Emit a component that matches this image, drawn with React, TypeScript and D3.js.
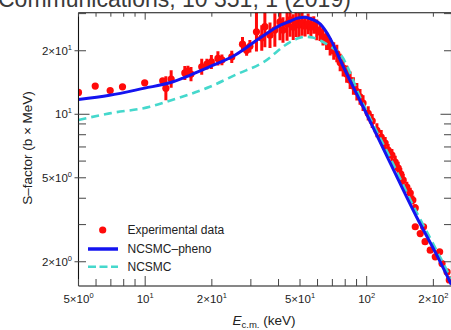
import React from "react";
import * as d3 from "d3";

const expEnergy = [5.0, 5.95, 6.95, 7.9, 9.95, 12.0, 12.4, 13.1, 15.1, 15.6, 16.1, 18.0, 19.0, 19.9, 21.3, 22.2, 24.6, 27.5, 28.7, 29.7, 31.8, 33.6, 34.7, 36.6, 38.5, 40.6, 41.9, 43.7, 45.1, 46.6, 48.0, 49.5, 51.1, 52.7, 54.4, 56.0, 57.7, 59.5, 61.6, 63.5, 65.9, 68.4, 71.0, 73.3, 75.9, 78.3, 81.2, 84.2, 87.1, 90.3, 93.3, 96.3, 101.6, 105.9, 111.2, 116.3, 121.2, 125.0, 130, 134.5, 138.8, 142.6, 146.2, 151.8, 157.3, 161.6, 165.7, 165.7, 174.5, 180.6, 183.5, 193.6, 204, 213.5, 218.8, 230.6, 236];
const expS = [12.7, 13.6, 12.95, 13.5, 14.1, 14.4, 13.3, 14.7, 15.7, 16.0, 15.5, 16.8, 17.3, 17.7, 18.4, 18.1, 18.7, 21.5, 20.1, 21.0, 24.6, 23.0, 26.0, 23.7, 25.1, 27.4, 25.1, 26.8, 28.0, 25.9, 27.4, 26.5, 27.1, 26.2, 26.8, 25.9, 26.5, 25.1, 24.5, 23.3, 22.2, 20.9, 19.97, 19.4, 17.6, 16.6, 15.5, 14.5, 13.6, 12.8, 12.1, 11.3, 10.1, 9.3, 8.4, 7.8, 7.3, 6.76, 6.4, 5.94, 5.56, 5.2, 4.87, 4.52, 4.23, 3.92, 3.6, 2.93, 2.72, 2.93, 2.49, 2.27, 2.11, 2.23, 1.96, 1.79, 1.64];
const expErr = [0, 0, 0, 0, 0, 0.03, 0.14, 0.1, 0.08, 0.06, 0.08, 0.09, 0.06, 0.08, 0.08, 0.06, 0.07, 0.08, 0.06, 0.07, 0.24, 0.15, 0.25, 0.15, 0.2, 0.22, 0.15, 0.2, 0.2, 0.15, 0.18, 0.15, 0.15, 0.12, 0.12, 0.12, 0.1, 0.12, 0.1, 0.1, 0.1, 0.1, 0.1, 0.1, 0.1, 0.1, 0.1, 0.1, 0.1, 0.1, 0.09, 0.09, 0.08, 0.08, 0.08, 0.08, 0.07, 0.07, 0.07, 0.07, 0.07, 0.07, 0.07, 0.06, 0.06, 0.05, 0.04, 0, 0, 0, 0, 0, 0, 0, 0, 0, 0];

const phenoEnergy = [5, 6.9, 9.95, 12.9, 15.9, 19.6, 25.5, 33, 40.6, 45.1, 49, 52.7, 55.5, 58.5, 61.6, 64.7, 68.4, 72, 75.9, 96.3, 127.8, 168, 204, 241];
const phenoS = [11.75, 12.3, 13.3, 14.1, 15.3, 16.8, 19.1, 23.0, 26.4, 27.6, 28.6, 28.8, 28.4, 27.8, 26.8, 25.2, 22.9, 20.5, 18.1, 10.86, 5.87, 3.26, 2.22, 1.56];

const ncsmcEnergy = [5, 6.9, 10.5, 12.25, 19.6, 26, 34.0, 45.1, 49, 53, 57, 61.6, 68.4, 75.9, 96.3, 127.8, 168, 204, 241];
const ncsmcS = [9.4, 10.1, 10.86, 11.4, 13.5, 15.5, 17.6, 22.0, 22.9, 23.3, 23.1, 22.4, 21.0, 19.3, 11.2, 6.2, 3.43, 2.33, 1.66];

const xTickLabelValues = [5, 10, 20, 50, 100, 200];
const xTickMantissa = ["5×", "", "2×", "5×", "", "2×"];
const xTickExponent = ["0", "1", "1", "1", "2", "2"];
const yTickLabelValues = [2, 5, 10, 20];
const yTickMantissa = ["2×", "5×", "", "2×"];
const yTickExponent = ["0", "0", "1", "1"];

const legendLabels = ["Experimental data", "NCSMC–pheno", "NCSMC"];

const RED = "#ff0a0a";
const BLUE = "#1414f0";
const TEAL = "#45d8cc";

export default function App() {
  const W = 451, H = 330;
  const L = 78.5, R = 451.5, T = 12.7, B = 286;
  const x = d3.scaleLog().domain([5, 241.5]).range([L, R]);
  const y = d3.scaleLog().domain([1.535, 30.3]).range([B, T]);

  const line = d3.line<[number, number]>()
    .x(d => x(d[0]))
    .y(d => y(d[1]))
    .curve(d3.curveMonotoneX);

  const phenoPts = phenoEnergy.map((e, i) => [e, phenoS[i]] as [number, number]);
  const ncsmcPts = ncsmcEnergy.map((e, i) => [e, ncsmcS[i]] as [number, number]);

  const xTicks = x.ticks().filter(v => v >= 5 && v <= 241);
  const yTicks = y.ticks().filter(v => v >= 1.6 && v <= 30.3);
  const isDecade = (v: number) => Math.abs(Math.log10(v) - Math.round(Math.log10(v))) < 1e-6;

  const font = "'Liberation Sans', Arial, Helvetica, sans-serif";
  const tickColor = "#444";

  return (
    <svg width={W} height={H} style={{ position: "absolute", left: 0, top: 0 }} fontFamily={font}>
      <defs>
        <clipPath id="plotclip">
          <rect x={L} y={T} width={R - L} height={B - T} />
        </clipPath>
      </defs>
      <rect x={0} y={0} width={W} height={H} fill="#fff" />
      <text x={-2} y={6.5} fontSize={23} fill="#3a3a3a">Communications, 10 351, 1 (2019)</text>

      {/* data */}
      <g clipPath="url(#plotclip)">
        {expEnergy.map((e, i) => expErr[i] > 0 ? (
          <line key={"eb" + i} x1={x(e)} x2={x(e)} y1={y(expS[i] * (1 + expErr[i]))} y2={y(expS[i] / (1 + expErr[i]))} stroke={RED} strokeWidth={3} />
        ) : null)}
        {expEnergy.map((e, i) => (
          <circle key={"d" + i} cx={x(e)} cy={y(expS[i])} r={3.6} fill={RED} />
        ))}
        <path d={line(ncsmcPts) || ""} fill="none" stroke={TEAL} strokeWidth={2.6} strokeDasharray="8,5" />
        <path d={line(phenoPts) || ""} fill="none" stroke={BLUE} strokeWidth={3} />
      </g>

      {/* frame */}
      <g fill="none" stroke="#111" strokeWidth={1.1}>
        <line x1={L} x2={L} y1={T} y2={B} />
        <line x1={L} x2={R} y1={B} y2={B} />
        <line x1={L} x2={R} y1={T} y2={T} />
        <line x1={R} x2={R} y1={T} y2={B} />
      </g>

      {/* ticks */}
      <g stroke={tickColor} strokeWidth={1}>
        {xTicks.map((v, i) => {
          const len = isDecade(v) ? 10 : 7;
          const px = x(v);
          return (
            <g key={"xt" + i}>
              <line x1={px} x2={px} y1={B} y2={B - len} />
              <line x1={px} x2={px} y1={T} y2={T + (isDecade(v) ? 7 : 4)} />
            </g>
          );
        })}
        {yTicks.map((v, i) => {
          const len = isDecade(v) ? 11 : 7.5;
          const py = y(v);
          const labeled = yTickLabelValues.includes(v);
          return (
            <g key={"yt" + i}>
              <line x1={labeled ? L - 4 : L} x2={L + len} y1={py} y2={py} />
              <line x1={R} x2={R - len} y1={py} y2={py} />
            </g>
          );
        })}
      </g>

      {/* x tick labels */}
      {xTickLabelValues.map((v, i) => (
        <text key={"xl" + i} x={x(v)} y={303} fontSize={11.5} textAnchor="middle" fill="#222">
          {xTickMantissa[i]}10<tspan dy={-5} fontSize={7.5}>{xTickExponent[i]}</tspan>
        </text>
      ))}
      {/* y tick labels */}
      {yTickLabelValues.map((v, i) => (
        <text key={"yl" + i} x={72} y={y(v) + 4} fontSize={11.5} textAnchor="end" fill="#222">
          {yTickMantissa[i]}10<tspan dy={-5} fontSize={7.5}>{yTickExponent[i]}</tspan>
        </text>
      ))}

      {/* axis titles */}
      <text x={232.5} y={325} fontSize={13.5} fill="#222">
        <tspan fontStyle="italic">E</tspan>
        <tspan fontSize={9.5} dy={3}>c.m.</tspan>
        <tspan dy={-3}> (keV)</tspan>
      </text>
      <text transform="translate(32,148) rotate(-90)" fontSize={13.5} textAnchor="middle" fill="#222">S–factor (b × MeV)</text>

      {/* legend */}
      <circle cx={102.7} cy={230} r={3.6} fill={RED} />
      <line x1={88} x2={118} y1={249} y2={249} stroke={BLUE} strokeWidth={3.5} />
      <line x1={88} x2={118} y1={266.7} y2={266.7} stroke={TEAL} strokeWidth={2.6} strokeDasharray="8,3.5" />
      {legendLabels.map((t, i) => (
        <text key={"lg" + i} x={127.5} y={[230, 249, 266.7][i] + 4.2} fontSize={12} fill="#222">{t}</text>
      ))}
    </svg>
  );
}
